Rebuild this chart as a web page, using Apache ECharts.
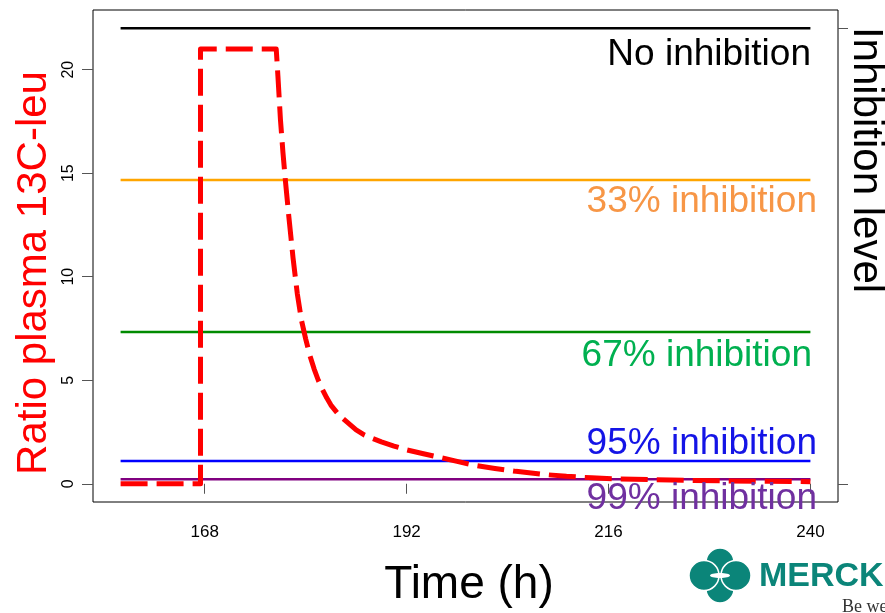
<!DOCTYPE html>
<html>
<head>
<meta charset="utf-8">
<script src="https://cdn.jsdelivr.net/npm/echarts@6/dist/echarts.min.js"></script>
<style>
	html, body {margin: 0; padding: 0; background: #fff;}
	#chart {width: 885px; height: 613px;}
</style>
</head>
<body>
<div id="chart"></div>
<script>
// time (h) and plasma 13C-leu ratio
let redTime = [158, 167.5, 167.5, 176.5, 176.7, 177.0, 177.3, 177.6, 178.0, 178.5, 179.0, 179.5, 180.0, 180.5, 181.0, 181.5, 182.0, 182.5, 183.0, 184.0, 185.0, 186.0, 187.0, 188.0, 189.0, 190.5, 192.0, 194.0, 196.0, 198.0, 200.0, 202.5, 205.0, 208.0, 211.0, 214.0, 217.0, 221.0, 225.0, 230.0, 235.0, 240.0];
let redRatio = [0, 0, 21, 21, 19.7, 17.6, 16.0, 14.6, 12.9, 10.9, 9.2, 7.9, 7.0, 6.2, 5.55, 5.0, 4.55, 4.15, 3.8, 3.3, 2.95, 2.6, 2.35, 2.18, 2.02, 1.82, 1.64, 1.45, 1.27, 1.08, 0.9, 0.74, 0.6, 0.46, 0.36, 0.29, 0.23, 0.2, 0.17, 0.14, 0.12, 0.1];

// inhibition levels
let levelNames = ['No inhibition', '33% inhibition', '67% inhibition', '95% inhibition', '99% inhibition'];
let levelValues = [22, 14.67, 7.33, 1.1, 0.22];
let levelStart = 158;
let levelEnd = 240;

let xTicks = [168, 192, 216, 240];
let yTicks = [0, 5, 10, 15, 20];
let rightTicks = [0, 22];

let lineColors = ['#000000', '#FFA500', '#008B00', '#0000FF', '#800080'];
let textColors = ['#000000', '#F79646', '#00B050', '#1414E6', '#7030A0'];
let textPos = [[811, 55], [817, 202], [812, 356], [817, 444], [817, 499]];

let font = 'Liberation Sans, Arial, sans-serif';

let chart = echarts.init(document.getElementById('chart'), null, {renderer: 'canvas'});

let levelSeries = levelValues.map((v, i) => ({
	type: 'line',
	name: levelNames[i],
	data: [[levelStart, v], [levelEnd, v]],
	symbol: 'none',
	silent: true,
	lineStyle: {color: lineColors[i], width: 2.5},
	z: 2,
}));

let labelTexts = levelNames.map((name, i) => ({
	type: 'text',
	x: textPos[i][0],
	y: textPos[i][1],
	z: 10,
	style: {
		text: name,
		fill: textColors[i],
		font: '37px ' + font,
		align: 'right',
		verticalAlign: 'middle',
	},
}));

let option = {
	animation: false,
	backgroundColor: '#fff',
	grid: {
		left: 93, right: 47, top: 10, bottom: 111,
		show: true, borderColor: '#000', borderWidth: 1,
		outerBoundsMode: 'none',
	},
	xAxis: {
		type: 'value',
		min: 154.72,
		max: 243.28,
		axisLine: {show: false},
		splitLine: {show: false},
		axisTick: {
			show: true, length: 10, customValues: xTicks,
			lineStyle: {color: '#555', width: 1},
		},
		axisLabel: {
			customValues: xTicks, color: '#000', fontSize: 17,
			fontFamily: font, margin: 22,
		},
	},
	yAxis: [{
		type: 'value',
		min: -0.88,
		max: 22.88,
		axisLine: {show: false},
		splitLine: {show: false},
		axisTick: {
			show: true, length: 11, customValues: yTicks,
			lineStyle: {color: '#555', width: 1},
		},
		axisLabel: {
			customValues: yTicks, color: '#000', fontSize: 16,
			fontFamily: font, rotate: 90, margin: 16,
		},
	}, {
		type: 'value',
		position: 'right',
		min: -0.88,
		max: 22.88,
		axisLine: {show: false},
		splitLine: {show: false},
		axisTick: {
			show: true, length: 10, customValues: rightTicks,
			lineStyle: {color: '#555', width: 1},
		},
		axisLabel: {show: false},
	}],
	series: [
		...levelSeries,
		{
			type: 'line',
			name: 'ratio',
			data: redTime.map((t, i) => [t, redRatio[i]]),
			symbol: 'none',
			silent: true,
			lineStyle: {color: '#FF0000', width: 5, type: [27, 9], join: 'round', cap: 'butt'},
			z: 5,
		},
	],
	graphic: [
		...labelTexts,
		{
			type: 'text',
			x: 34, y: 273, rotation: Math.PI / 2,
			style: {
				text: 'Ratio plasma 13C-leu', fill: '#FF0000',
				font: '42px ' + font, align: 'center', verticalAlign: 'middle',
			},
		},
		{
			type: 'text',
			x: 866, y: 160, rotation: -Math.PI / 2,
			style: {
				text: 'Inhibition level', fill: '#000',
				font: '42px ' + font, align: 'center', verticalAlign: 'middle',
			},
		},
		{
			type: 'text',
			x: 469, y: 585,
			style: {
				text: 'Time (h)', fill: '#000',
				font: '46px ' + font, align: 'center', verticalAlign: 'middle',
			},
		},
		// Merck logo, rough
		{
			type: 'group',
			children: [
				{type: 'circle', shape: {cx: 720, cy: 562, r: 14}, style: {fill: '#0B8579', stroke: '#fff', lineWidth: 1.5}},
				{type: 'circle', shape: {cx: 720, cy: 589, r: 14}, style: {fill: '#0B8579', stroke: '#fff', lineWidth: 1.5}},
				{type: 'circle', shape: {cx: 704, cy: 575.5, r: 15}, style: {fill: '#0B8579', stroke: '#fff', lineWidth: 1.5}},
				{type: 'circle', shape: {cx: 736, cy: 575.5, r: 15}, style: {fill: '#0B8579', stroke: '#fff', lineWidth: 1.5}},
				{type: 'ellipse', shape: {cx: 720, cy: 575.5, rx: 10, ry: 2.5}, style: {fill: '#fff'}},
				{
					type: 'text', x: 759, y: 577,
					style: {text: 'MERCK', fill: '#0B8579', font: 'bold 34px ' + font, align: 'left', verticalAlign: 'middle'},
				},
				{
					type: 'text', x: 842, y: 598,
					style: {text: 'Be well', fill: '#333', font: '18px Liberation Serif, serif', align: 'left', verticalAlign: 'top'},
				},
			],
		},
	],
};

chart.setOption(option);
</script>
</body>
</html>
